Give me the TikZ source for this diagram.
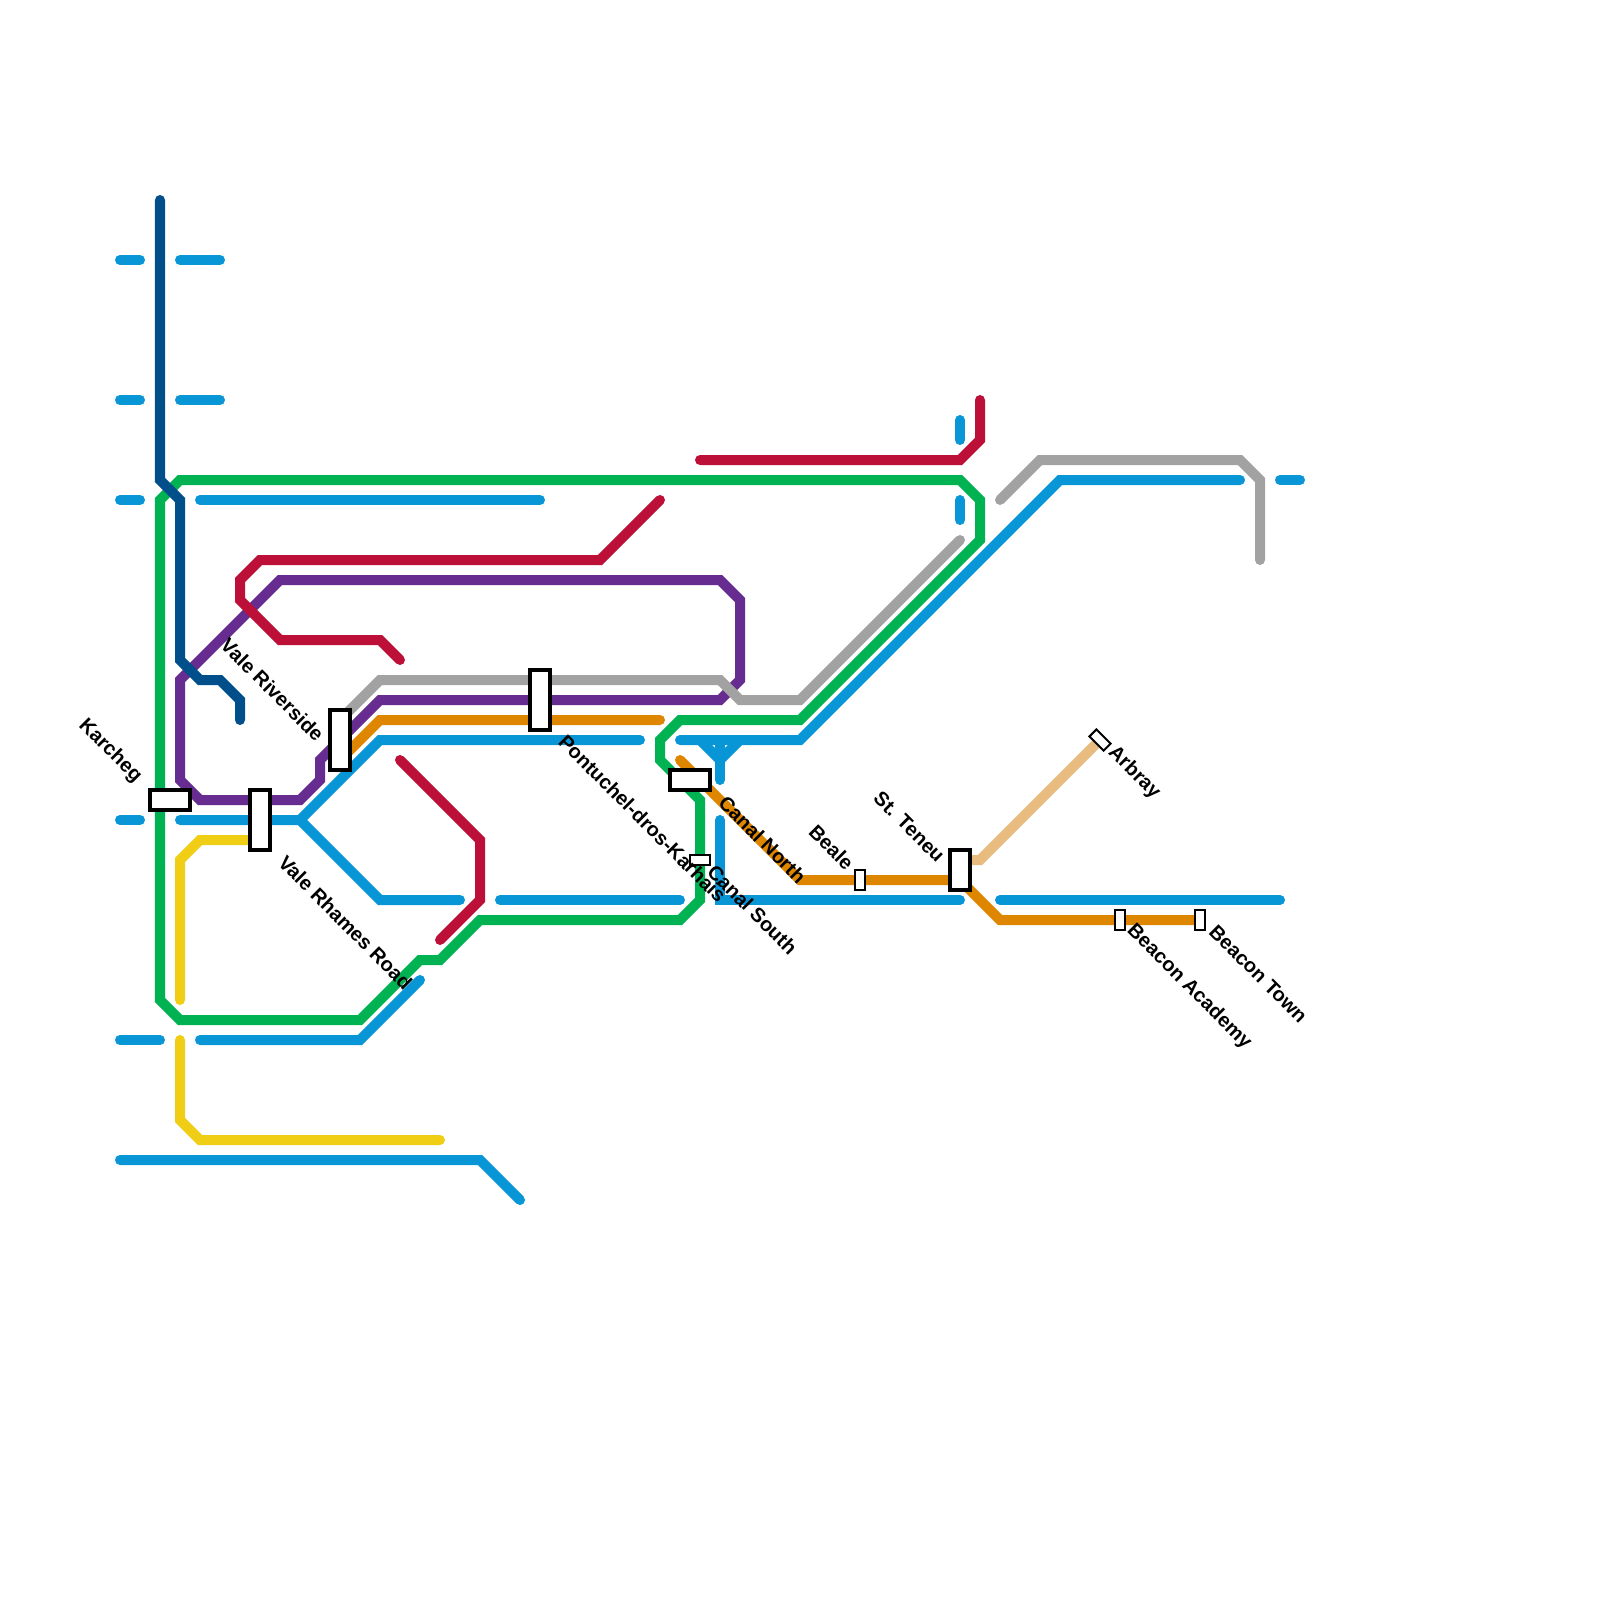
\documentclass[tikz,border=0pt]{standalone}
\usepackage{fontspec}
\setmainfont{Liberation Sans}
\definecolor{lblue}{HTML}{0896D7}
\definecolor{lgreen}{HTML}{00B251}
\definecolor{lred}{HTML}{BD1038}
\definecolor{lpurple}{HTML}{662C90}
\definecolor{lgray}{HTML}{A2A2A2}
\definecolor{lorange}{HTML}{DF8600}
\definecolor{lyellow}{HTML}{F0CE15}
\definecolor{lnavy}{HTML}{004F8B}
\definecolor{ltan}{HTML}{E8BC7E}
\tikzset{
  metro/.style={line width=2.845pt,line cap=round,line join=miter},
  bigst/.style={draw=black,fill=white,line width=1.138pt,inner sep=0pt,outer sep=0pt},
  smallst/.style={bigst,line width=0.569pt},
  lbl/.style={rotate=-45,anchor=mid,inner sep=0pt,font=\fontsize{5.69pt}{6pt}\selectfont\bfseries,text=black},
}
\begin{document}
\begin{tikzpicture}[x=0.01cm,y=-0.01cm]
\useasboundingbox (0,0) rectangle (1600,1600);
% light blue
\draw[metro,lblue] (120,260)--(140,260);
\draw[metro,lblue] (180,260)--(220,260);
\draw[metro,lblue] (120,400)--(140,400);
\draw[metro,lblue] (180,400)--(220,400);
\draw[metro,lblue] (120,500)--(140,500);
\draw[metro,lblue] (200,500)--(540,500);
\draw[metro,lblue] (120,820)--(140,820);
\draw[metro,lblue] (180,820)--(300,820)--(380,740)--(640,740);
\draw[metro,lblue] (300,820)--(380,900)--(460,900);
\draw[metro,lblue] (500,900)--(680,900);
\draw[metro,lblue] (120,1040)--(160,1040);
\draw[metro,lblue] (200,1040)--(360,1040)--(420,980);
\draw[metro,lblue] (120,1160)--(480,1160)--(520,1200);
\draw[metro,lblue] (680,740)--(800,740)--(1060,480)--(1240,480);
\draw[metro,lblue] (1280,480)--(1300,480);
\draw[metro,lblue] (960,420)--(960,440);
\draw[metro,lblue] (960,500)--(960,520);
\draw[metro,lblue] (700,740)--(720,760);
\draw[metro,lblue] (740,740)--(720,760);
\draw[metro,lblue] (720,740)--(720,780);
\draw[metro,lblue] (720,820)--(720,900)--(960,900);
\draw[metro,lblue] (1000,900)--(1280,900);
% yellow
\draw[metro,lyellow] (180,1000)--(180,860)--(200,840)--(260,840);
\draw[metro,lyellow] (180,1040)--(180,1120)--(200,1140)--(440,1140);
% green
\draw[metro,lgreen] (160,500)--(180,480)--(960,480)--(980,500)--(980,540)--(800,720)--(680,720)--(660,740)--(660,760)--(700,800)--(700,900)--(680,920)--(480,920)--(440,960)--(420,960)--(360,1020)--(180,1020)--(160,1000)--cycle;
% orange
\draw[metro,lorange] (660,720)--(380,720)--(340,760);
\draw[metro,lorange] (680,760)--(800,880)--(960,880)--(1000,920)--(1200,920);
% tan
\draw[metro,ltan] (960,860)--(980,860)--(1100,740);
% purple
\draw[metro,lpurple] (180,680)--(280,580)--(720,580)--(740,600)--(740,680)--(720,700)--(380,700)--(320,760)--(320,780)--(300,800)--(200,800)--(180,780)--cycle;
% gray
\draw[metro,lgray] (340,720)--(380,680)--(720,680)--(740,700)--(800,700)--(960,540);
\draw[metro,lgray] (1000,500)--(1040,460)--(1240,460)--(1260,480)--(1260,560);
% red
\draw[metro,lred] (700,460)--(960,460)--(980,440)--(980,400);
\draw[metro,lred] (660,500)--(600,560)--(260,560)--(240,580)--(240,600)--(280,640)--(380,640)--(400,660);
\draw[metro,lred] (400,760)--(480,840)--(480,900)--(440,940);
% navy
\draw[metro,lnavy] (160,200)--(160,480)--(180,500)--(180,660)--(200,680)--(220,680)--(240,700)--(240,720);
% stations
\node[bigst,minimum width=0.4cm,minimum height=0.2cm] (karcheg) at (170,800) {};
\node[bigst,minimum width=0.2cm,minimum height=0.6cm] (rhames) at (260,820) {};
\node[bigst,minimum width=0.2cm,minimum height=0.6cm] (riverside) at (340,740) {};
\node[bigst,minimum width=0.2cm,minimum height=0.6cm] (pontuchel) at (540,700) {};
\node[bigst,minimum width=0.4cm,minimum height=0.2cm] (canaln) at (690,780) {};
\node[smallst,minimum width=0.2cm,minimum height=0.1cm] (canals) at (700,860) {};
\node[smallst,minimum width=0.1cm,minimum height=0.2cm] (beale) at (860,880) {};
\node[bigst,minimum width=0.2cm,minimum height=0.4cm] (teneu) at (960,870) {};
\node[smallst,minimum width=0.1cm,minimum height=0.2cm] (academy) at (1120,920) {};
\node[smallst,minimum width=0.1cm,minimum height=0.2cm] (town) at (1200,920) {};
\node[smallst,minimum width=0.2cm,minimum height=0.1cm,rotate=-45] (arbray) at (1100,740) {};
% labels
\node[lbl] (lkarcheg) at (113,748) {Karcheg};
\node[lbl] (lriverside) at (274,688) {Vale Riverside};
\node[lbl] (lrhames) at (347,921) {Vale Rhames Road};
\node[lbl] (lpont) at (644,817) {Pontuchel-dros-Karhais};
\node[lbl] (lcanaln) at (764,838) {Canal North};
\node[lbl] (lcanals) at (754,908) {Canal South};
\node[lbl] (lbeale) at (833,846) {Beale};
\node[lbl] (lteneu) at (911,825) {St. Teneu};
\node[lbl] (larbray) at (1137,770) {Arbray};
\node[lbl] (lacademy) at (1192,984) {Beacon Academy};
\node[lbl] (ltown) at (1260,972) {Beacon Town};
\end{tikzpicture}
\end{document}
